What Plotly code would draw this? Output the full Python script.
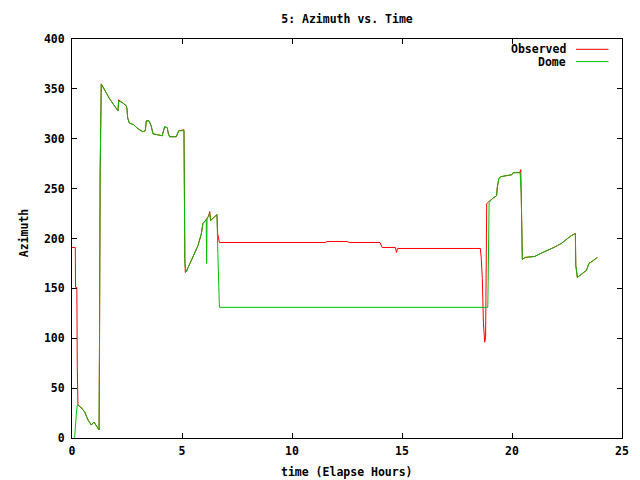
import plotly.graph_objects as go

obs_time = [0.0, 0.15, 0.16, 0.22, 0.24, 0.27, 0.4, 0.58, 0.73, 0.88, 1.0, 1.1, 1.23, 1.25, 1.28, 1.33,
            1.71, 2.09, 2.12, 2.3, 2.47, 2.50, 2.53, 2.6, 2.8, 3.0, 3.23, 3.33, 3.38, 3.5, 3.6, 3.68,
            4.1, 4.21, 4.33, 4.38, 4.44, 4.74, 4.85, 5.09, 5.1, 5.11, 5.13, 5.15, 5.2, 5.3, 5.42, 5.58,
            5.73, 5.88, 5.95, 6.1, 6.2, 6.26, 6.3, 6.4, 6.59, 6.62, 6.67, 6.7, 8.0, 11.5, 11.6, 12.5,
            12.6, 14.0, 14.1, 14.7, 14.75, 14.8, 16.0, 18.56, 18.6, 18.65, 18.7, 18.76, 18.8, 18.85,
            19.0, 19.1, 19.2, 19.3, 19.33, 19.4, 19.5, 19.82, 20.0, 20.05, 20.35, 20.4, 20.42, 20.45,
            20.47, 20.6, 21.03, 21.3, 21.64, 21.9, 22.24, 22.55, 22.7, 22.88, 22.9, 22.97, 23.2, 23.38,
            23.45, 23.5, 23.7, 23.88]
obs_az = [191, 191, 151, 151, 72, 33, 31, 26, 18, 13, 16, 13, 8, 95, 268, 355,
          340, 328, 339, 336, 333, 330, 321, 316, 314, 310, 307, 308, 318, 318, 313, 305,
          303, 312, 311, 305, 302, 302, 308, 309, 253, 238, 180, 166, 167, 172, 178, 186,
          193, 205, 215, 219, 222, 227, 218, 220, 224, 205, 200, 196, 196, 196, 197, 197,
          196, 196, 191, 191, 186, 190, 190, 190, 181, 160, 116, 96, 101, 235,
          238, 240, 242, 243, 251, 260, 262, 263, 264, 266, 266, 269, 245, 201,
          179, 181, 182, 185, 188, 191, 195, 201, 203, 205, 173, 161, 165, 168,
          172, 175, 178, 181]

dome_time = [0.12, 0.14, 0.2, 0.24, 0.27, 0.4, 0.58, 0.73, 0.88, 1.0, 1.1, 1.23, 1.25, 1.28, 1.33,
             1.71, 2.09, 2.12, 2.3, 2.47, 2.50, 2.53, 2.6, 2.8, 3.0, 3.23, 3.33, 3.38, 3.5, 3.6, 3.68,
             4.1, 4.21, 4.33, 4.38, 4.44, 4.74, 4.85, 5.09, 5.12, 5.13, 5.16, 5.2, 5.3, 5.42, 5.58,
             5.73, 5.88, 5.95, 6.1, 6.12, 6.14, 6.2, 6.26, 6.3, 6.4, 6.59, 6.63, 6.66, 6.7,
             18.9, 18.92, 18.93, 18.94, 18.96, 19.1, 19.2, 19.3, 19.33, 19.4, 19.5, 19.82, 20.0,
             20.05, 20.37, 20.42, 20.45, 20.47, 20.6, 21.03, 21.3, 21.64, 21.9, 22.24, 22.55, 22.7,
             22.88, 22.9, 22.97, 23.2, 23.38, 23.45, 23.5, 23.7, 23.88]
dome_az = [0, 8, 25, 33, 33, 31, 26, 18, 13, 16, 13, 8, 95, 268, 355,
           340, 328, 338, 336, 333, 330, 321, 316, 314, 310, 307, 308, 318, 318, 313, 305,
           303, 312, 311, 305, 302, 302, 308, 308, 190, 175, 170, 167, 172, 178, 186,
           193, 205, 215, 219, 175, 221, 222, 225, 218, 220, 224, 185, 148, 131,
           131, 156, 170, 208, 236, 240, 242, 243, 251, 260, 262, 263, 264,
           266, 266, 245, 201, 179, 181, 182, 185, 188, 191, 195, 201, 203,
           205, 173, 161, 165, 168, 172, 175, 178, 181]

x_ticks = [0, 5, 10, 15, 20, 25]
y_ticks = [0, 50, 100, 150, 200, 250, 300, 350, 400]

FONT = dict(family="DejaVu Sans Mono", size=11.5, color="black", weight="bold")
OFF = 8  # page body margin

# target plot box in page pixels
L, T, R, B = 72, 39, 622, 438
W, H = 640 - OFF, 480 - OFF

fig = go.Figure()
fig.add_trace(go.Scatter(x=obs_time, y=obs_az, mode="lines", name="Observed",
                         line=dict(color="#ff0000", width=1)))
fig.add_trace(go.Scatter(x=dome_time, y=dome_az, mode="lines", name="Dome",
                         line=dict(color="#00c000", width=1)))

axis_common = dict(showline=True, linecolor="black", linewidth=1, mirror="ticks",
                   ticks="inside", ticklen=5, tickcolor="black", showgrid=False,
                   zeroline=False, tickfont=FONT)

fig.update_layout(
    width=W, height=H,
    margin=dict(l=L - OFF, r=W - (R - OFF), t=T - OFF, b=H - (B - OFF), autoexpand=False),
    paper_bgcolor="white", plot_bgcolor="white",
    showlegend=False,
    title=dict(text="5: Azimuth vs. Time", x=(347 - OFF) / W, xanchor="center",
               y=1 - (19 - OFF) / H, yanchor="middle", font=FONT),
    xaxis=dict(range=[0, 25], tickvals=x_ticks, ticktext=[str(v) for v in x_ticks],
               ticklabelstandoff=2, **axis_common),
    yaxis=dict(range=[0, 400], tickvals=y_ticks, ticktext=[str(v) for v in y_ticks],
               ticklabelstandoff=4, **axis_common),
)

pw, ph = R - L, B - T
fig.add_annotation(x=(347.3 - L) / pw, y=0, yshift=-(471.7 - B), xref="paper", yref="paper",
                   text="time (Elapse Hours)", showarrow=False, xanchor="center",
                   yanchor="middle", font=FONT)
fig.add_annotation(x=0, xshift=23.5 - L, y=1 - (232.7 - T) / ph, xref="paper", yref="paper",
                   text="Azimuth", textangle=-90, showarrow=False, xanchor="center",
                   yanchor="middle", font=FONT)

# gnuplot-style key: label then sample line to the right
for i, (name, color) in enumerate([("Observed", "#ff0000"), ("Dome", "#00c000")]):
    ypix = 49.3 + 12.3 * i
    yp = 1 - (ypix - T) / ph
    fig.add_annotation(x=(567.5 - L) / pw, y=yp, xref="paper", yref="paper", text=name,
                       showarrow=False, xanchor="right", yanchor="middle", font=FONT)
    fig.add_shape(type="line", xref="paper", yref="paper",
                  x0=(576 - L) / pw, x1=(608.5 - L) / pw, y0=yp, y1=yp,
                  line=dict(color=color, width=1))

fig.write_html("out.html")
